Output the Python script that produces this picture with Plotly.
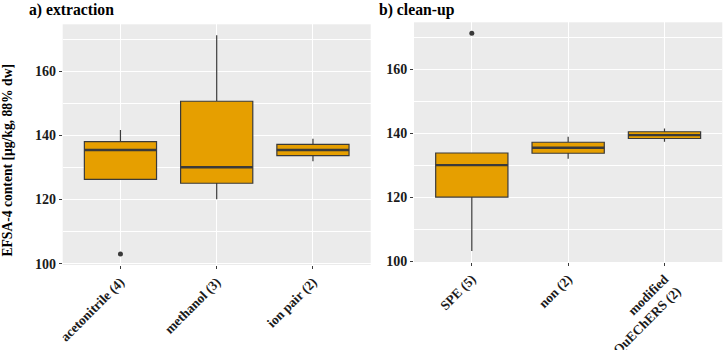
import numpy as np
import plotly.graph_objects as go

# ---------------- data ----------------
extraction_labels = ["acetonitrile (4)", "methanol (3)", "ion pair (2)"]
acetonitrile = [103.0, 134.1, 136.9, 141.7]
methanol = [120.1, 130.1, 171.3]
ion_pair = [132.0, 139.0]

cleanup_labels = ["SPE (5)", "non (2)", "modified<br>QuEChERS (2)"]
spe = [103.1, 120.0, 130.0, 133.8, 171.3]
non = [132.0, 138.9]
quechers = [137.3, 141.5]

y_ticks = [100, 120, 140, 160]

FILL = "#E69F00"
LINE = "#3a3a3a"
FONT = "Liberation Serif"


def box_stats(groups):
    q1s, meds, q3s, lows, highs, out_x, out_y = [], [], [], [], [], [], []
    for i, g in enumerate(groups):
        a = np.array(g, dtype=float)
        q1, med, q3 = np.percentile(a, [25, 50, 75])
        iqr = q3 - q1
        lo_f, hi_f = q1 - 1.5 * iqr, q3 + 1.5 * iqr
        inside = a[(a >= lo_f) & (a <= hi_f)]
        low = min(q1, inside.min())
        high = max(q3, inside.max())
        for v in a[(a < lo_f) | (a > hi_f)]:
            out_x.append(i)
            out_y.append(v)
        q1s.append(q1); meds.append(med); q3s.append(q3)
        lows.append(low); highs.append(high)
    return q1s, meds, q3s, lows, highs, out_x, out_y


def yrange(groups):
    allv = np.concatenate([np.array(g, float) for g in groups])
    lo, hi = allv.min(), allv.max()
    pad = 0.05 * (hi - lo)
    return [lo - pad, hi + pad]


def bold(labels):
    return ["<br>".join("<b>%s</b>" % p for p in str(l).split("<br>")) for l in labels]


fig = go.Figure()

panels = [
    ("x", "y", [acetonitrile, methanol, ion_pair], extraction_labels),
    ("x2", "y2", [spe, non, quechers], cleanup_labels),
]

BW = 0.75
for xa, ya, groups, labels in panels:
    q1, med, q3, low, high, ox, oy = box_stats(groups)
    xs = list(range(len(groups)))
    fig.add_trace(go.Box(
        x=xs, q1=q1, median=med, q3=q3, lowerfence=low, upperfence=high,
        width=BW, whiskerwidth=0, boxpoints=False,
        fillcolor=FILL, line=dict(color=LINE, width=1.2),
        xaxis=xa, yaxis=ya, showlegend=False, hoverinfo="skip",
    ))
    # thicker median lines (ggplot style)
    mx, my = [], []
    for i, m in enumerate(med):
        mx += [i - BW / 2, i + BW / 2, None]
        my += [m, m, None]
    fig.add_trace(go.Scatter(
        x=mx, y=my, mode="lines", line=dict(color=LINE, width=2.4),
        xaxis=xa, yaxis=ya, showlegend=False, hoverinfo="skip",
    ))
    if ox:
        fig.add_trace(go.Scatter(
            x=ox, y=oy, mode="markers",
            marker=dict(color=LINE, size=5),
            xaxis=xa, yaxis=ya, showlegend=False, hoverinfo="skip",
        ))

W, H = 724, 350

common_x = dict(
    range=[-0.6, 2.6], tickmode="array", tickvals=[0, 1, 2],
    showgrid=True, gridcolor="white", gridwidth=1.3, zeroline=False,
    ticks="outside", ticklen=3, tickcolor=LINE, tickwidth=1,
    tickangle=-45, showline=False, automargin=False,
    tickfont=dict(family=FONT, size=13.4, color="#1a1a1a"),
)
common_y = dict(
    tickmode="array", tickvals=y_ticks, ticktext=bold(y_ticks),
    showgrid=True, gridcolor="white", gridwidth=1.3, zeroline=False,
    ticks="outside", ticklen=3, tickcolor=LINE, tickwidth=1,
    showline=False, automargin=False,
    tickfont=dict(family=FONT, size=14, color="#1a1a1a"),
    minor=dict(tickvals=[110, 130, 150, 170], showgrid=True,
               gridcolor="white", gridwidth=0.6, ticks=""),
)

fig.update_layout(
    width=W, height=H,
    margin=dict(l=0, r=0, t=0, b=0, autoexpand=False),
    paper_bgcolor="white", plot_bgcolor="#EBEBEB",
    font=dict(family=FONT, color="#1a1a1a"),
    xaxis=dict(domain=[62.7 / W, 370.7 / W], anchor="y",
               ticktext=bold(extraction_labels), **common_x),
    yaxis=dict(domain=[1 - 265 / H, 1 - 24.3 / H], anchor="x",
               range=yrange([acetonitrile, methanol, ion_pair]), **common_y),
    xaxis2=dict(domain=[414 / W, 722.3 / W], anchor="y2",
                ticktext=bold(cleanup_labels), **common_x),
    yaxis2=dict(domain=[1 - 262 / H, 1 - 22.3 / H], anchor="x2",
                range=yrange([spe, non, quechers]), **common_y),
    annotations=[
        dict(text="<b>a) extraction</b>", xref="paper", yref="paper",
             x=27 / W, y=1 - 10 / H, xanchor="left", yanchor="middle",
             showarrow=False, font=dict(family=FONT, size=15.7, color="black")),
        dict(text="<b>b) clean-up</b>", xref="paper", yref="paper",
             x=376.7 / W, y=1 - 10 / H, xanchor="left", yanchor="middle",
             showarrow=False, font=dict(family=FONT, size=15.7, color="black")),
        dict(text="<b>EFSA-4 content [µg/kg, 88% dw]</b>", xref="paper", yref="paper",
             x=6.5 / W, y=1 - 161 / H, xanchor="center", yanchor="middle",
             textangle=-90, showarrow=False,
             font=dict(family=FONT, size=13.6, color="black")),
    ],
)

fig.write_html("out.html")
